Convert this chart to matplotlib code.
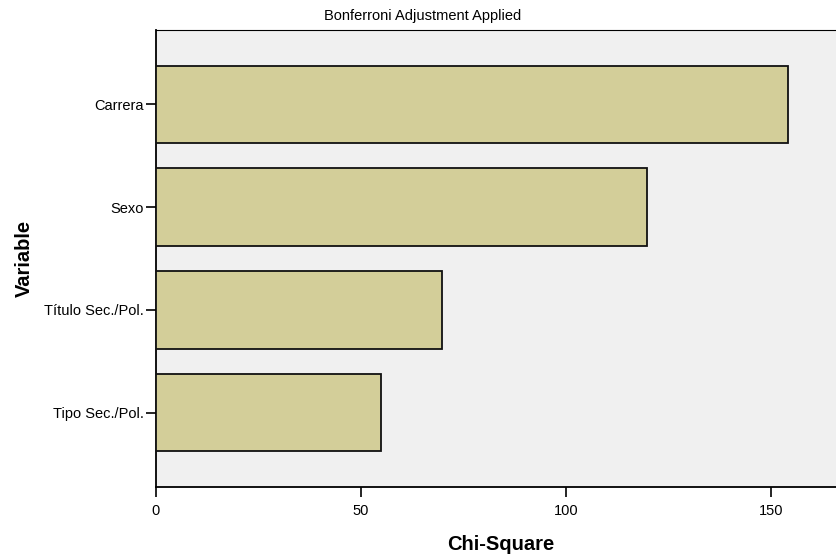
import matplotlib
matplotlib.use("Agg")
import matplotlib.pyplot as plt

plt.rcParams['font.family'] = ['Liberation Sans', 'DejaVu Sans']

# data
variables = ["Carrera", "Sexo", "Título Sec./Pol.", "Tipo Sec./Pol."]
chi_square = [154.1, 119.8, 69.8, 54.9]
x_ticks = [0, 50, 100, 150]

W, H = 837, 554
fig = plt.figure(figsize=(W / 100, H / 100), dpi=100)
ax = fig.add_axes([156 / W, 1 - 487 / H, (W - 156) / W, (487 - 30) / H])
ax.set_facecolor("#F0F0F0")

pos = list(range(len(variables)))
ax.barh(pos, chi_square, height=0.75, color="#D3CE99",
        edgecolor="#111111", linewidth=1.3, zorder=3)

ax.set_ylim(3.72, -0.72)
ax.set_xlim(0, 166.1)
ax.set_yticks(pos)
ax.set_yticklabels(variables)
ax.set_xticks(x_ticks)

ax.tick_params(axis="both", direction="out", length=7, width=1.2,
               labelsize=10.5, color="black")
ax.tick_params(axis="x", pad=5.5)
ax.tick_params(axis="y", pad=1.5)

for s in ["left", "bottom"]:
    ax.spines[s].set_linewidth(1.3)
ax.spines["top"].set_linewidth(0.8)
ax.spines["right"].set_visible(False)

ax.set_xlabel("Chi-Square", fontsize=14.5, fontweight="bold", va="center")
ax.xaxis.set_label_coords((501 - 156) / (W - 156), -(544 - 487) / (487 - 30))
ax.set_ylabel("Variable", fontsize=14.5, fontweight="bold", va="center")
ax.yaxis.set_label_coords(-(156 - 24) / (W - 156), 0.5)

fig.text(423 / W, 1 - 16 / H, "Bonferroni Adjustment Applied",
         ha="center", va="center", fontsize=10.5)

fig.savefig("out.png", dpi=100)
